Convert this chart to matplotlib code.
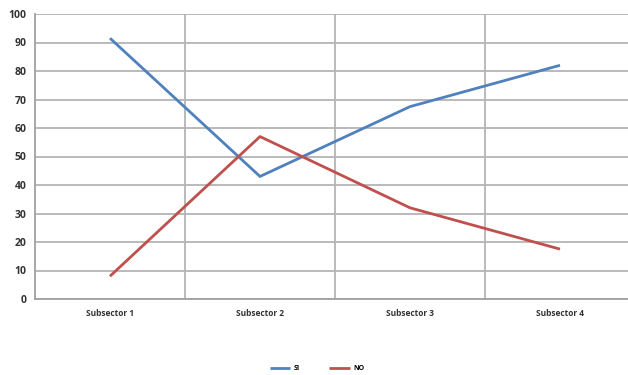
import matplotlib.pyplot as plt
from matplotlib.ticker import FixedLocator

plt.rcParams['font.family'] = ['Open Sans', 'DejaVu Sans']

categories = ['Subsector 1', 'Subsector 2', 'Subsector 3', 'Subsector 4']
si = [91.5, 43, 67.5, 82]
no = [8, 57, 32, 17.5]
yticks = list(range(0, 101, 10))

fig = plt.figure(figsize=(6.28, 3.75), dpi=100)
ax = fig.add_axes([35 / 628, 76 / 375, 600 / 628, 285 / 375])

x = range(len(categories))
ax.plot(x, si, color='#4F81BD', lw=2.0, label='SI', solid_capstyle='butt')
ax.plot(x, no, color='#C0504D', lw=2.0, label='NO', solid_capstyle='butt')

ax.set_xlim(-0.5, len(categories) - 0.5)
ax.set_ylim(0, 100)
ax.set_yticks(yticks)
ax.set_xticks(list(x))
ax.set_xticklabels(categories, fontsize=6, fontweight='bold', color='#333333')
ax.tick_params(axis='y', labelsize=7.5, length=0, pad=6, labelcolor='#333333')
ax.tick_params(axis='x', length=0, pad=7)
for lbl in ax.get_yticklabels():
    lbl.set_fontweight('bold')

# horizontal grid on values, vertical grid between categories
ax.grid(axis='y', color='#b4b4b4', lw=1.3)
ax.xaxis.set_minor_locator(FixedLocator([0.5, 1.5, 2.5]))
ax.grid(axis='x', which='minor', color='#b4b4b4', lw=1.3)
ax.tick_params(axis='x', which='minor', length=0)
ax.set_axisbelow(True)

for side in ['top', 'right']:
    ax.spines[side].set_visible(False)
for side in ['left', 'bottom']:
    ax.spines[side].set_color('#a0a0a0')
    ax.spines[side].set_linewidth(1.3)

leg = fig.legend(loc='center', ncol=2, frameon=False, handlelength=3.0,
                 handletextpad=0.5, columnspacing=4.2,
                 prop={'weight': 'bold', 'size': 5})
leg.set_bbox_to_anchor((0.505, 1 - 369 / 375), transform=fig.transFigure)

fig.savefig('out.png', dpi=100)
